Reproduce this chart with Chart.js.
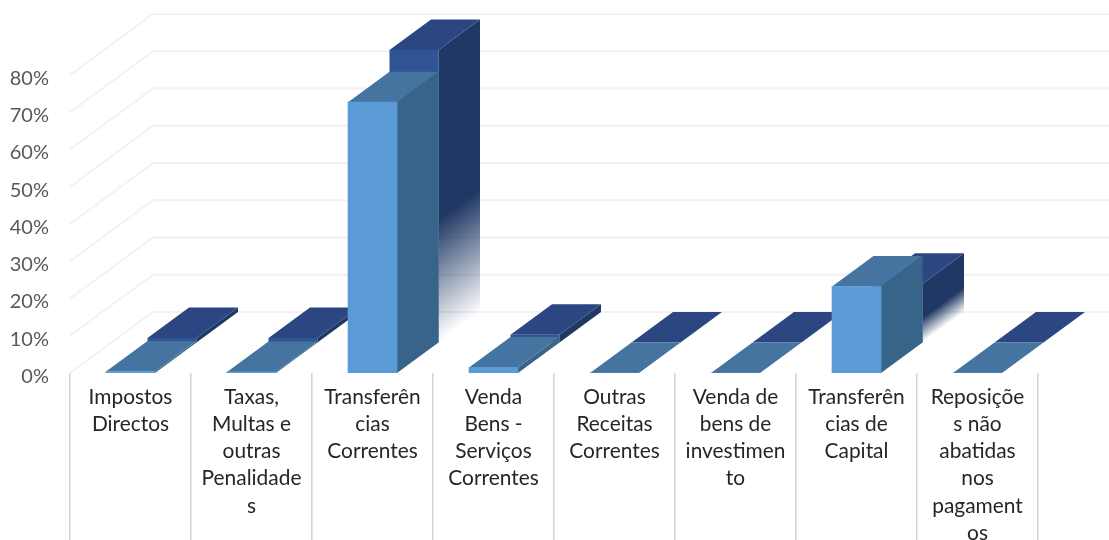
<!DOCTYPE html>
<html>
<head>
<meta charset="utf-8">
<script src="https://cdn.jsdelivr.net/npm/chart.js@4"></script>
<style>
  html, body { margin: 0; padding: 0; background: #ffffff; }
  canvas { display: block; }
</style>
</head>
<body>
<canvas id="receitas-chart" width="1109" height="540"></canvas>
<script>
const categories = [
  ['Impostos', 'Directos'],
  ['Taxas,', 'Multas e', 'outras', 'Penalidade', 's'],
  ['Transferên', 'cias', 'Correntes'],
  ['Venda', 'Bens -', 'Serviços', 'Correntes'],
  ['Outras', 'Receitas', 'Correntes'],
  ['Venda de', 'bens de', 'investimen', 'to'],
  ['Transferên', 'cias de', 'Capital'],
  ['Reposiçõe', 's não', 'abatidas', 'nos', 'pagament', 'os']
];
const frontValues = [0.4, 0.3, 72.7, 1.5, 0, 0, 23.2, 0];
const backValues = [1.2, 1.2, 78.5, 2.1, 0, 0, 15.8, 0];

// one row of bars takes this much of the fake 3D depth
const DEPTH_X = 41.5;
const DEPTH_Y = -30.5;

const FRONT_COLORS = { face: '#5b9bd5', top: '#44749f', side: '#386489' };
const BACK_COLORS = { face: '#2f5597', top: '#2b4681', side: '#203864' };

function poly(ctx, pts, fill) {
  ctx.beginPath();
  pts.forEach((p, i) => (i ? ctx.lineTo(p[0], p[1]) : ctx.moveTo(p[0], p[1])));
  ctx.closePath();
  ctx.fillStyle = fill;
  ctx.fill();
}

// side face fades out towards the floor, the gradient runs across the slanted bottom edge
function fadeGradient(ctx, x, top, base, color) {
  const len = Math.hypot(DEPTH_X, DEPTH_Y);
  const nx = -DEPTH_Y / len;
  const ny = DEPTH_X / len;
  const d = (base - top) * ny;
  const g = ctx.createLinearGradient(x, top, x + nx * d, top + ny * d);
  g.addColorStop(0, color);
  g.addColorStop(0.58, color);
  g.addColorStop(1, 'rgba(32,56,100,0)');
  return g;
}

function drawBox(ctx, el, row, colors, withFace, fade) {
  const sx = DEPTH_X * row;
  const sy = DEPTH_Y * row;
  const l = el.x - el.width / 2 + sx;
  const r = el.x + el.width / 2 + sx;
  const top = el.y + sy;
  const base = el.base + sy;
  if (withFace) poly(ctx, [[l, top], [r, top], [r, base], [l, base]], colors.face);
  poly(ctx, [[r, top], [r + DEPTH_X, top + DEPTH_Y], [r + DEPTH_X, base + DEPTH_Y], [r, base]],
    fade ? fadeGradient(ctx, r, top, base, colors.side) : colors.side);
  poly(ctx, [[l, top], [r, top], [r + DEPTH_X, top + DEPTH_Y], [l + DEPTH_X, top + DEPTH_Y]], colors.top);
}

const depthPlugin = {
  id: 'depth',
  beforeDatasetsDraw(chart) {
    const ctx = chart.ctx;
    const yScale = chart.scales.y;
    const wallX = DEPTH_X * 2;
    const wallY = DEPTH_Y * 2;
    ctx.save();
    ctx.strokeStyle = '#f2f2f2';
    ctx.lineWidth = 2;
    yScale.ticks.forEach(t => {
      const y = yScale.getPixelForValue(t.value);
      ctx.beginPath();
      ctx.moveTo(chart.chartArea.left, y);
      ctx.lineTo(chart.chartArea.left + wallX, y + wallY);
      ctx.lineTo(chart.width, y + wallY);
      ctx.stroke();
    });
    chart.getDatasetMeta(1).data.forEach((el, i) => {
      drawBox(ctx, el, 1, BACK_COLORS, true, backValues[i] > 10);
    });
    chart.getDatasetMeta(0).data.forEach(el => {
      drawBox(ctx, el, 0, FRONT_COLORS, false, false);
    });
    ctx.restore();
  }
};

new Chart(document.getElementById('receitas-chart'), {
  type: 'bar',
  data: {
    labels: categories,
    datasets: [
      { label: 'Frente', data: frontValues, backgroundColor: FRONT_COLORS.face },
      { label: 'Fundo', data: backValues, backgroundColor: 'rgba(0,0,0,0)' }
    ]
  },
  options: {
    responsive: false,
    animation: false,
    layout: { padding: { top: 75, right: 71, left: 0, bottom: 0 } },
    datasets: { bar: { grouped: false, barThickness: 49 } },
    plugins: { legend: { display: false }, tooltip: { enabled: false } },
    scales: {
      x: {
        afterFit: s => { s.height = 167; },
        border: { display: false },
        grid: {
          drawOnChartArea: false,
          color: '#d4d4d4',
          lineWidth: 1.5,
          tickLength: 167
        },
        ticks: {
          autoSkip: false,
          maxRotation: 0,
          padding: -156,
          color: '#262626',
          font: { family: 'Lato', size: 20.9, lineHeight: 1.295 }
        }
      },
      y: {
        min: 0,
        max: 80,
        afterFit: s => { s.width = 70; },
        border: { display: false },
        grid: { display: false, drawTicks: false },
        ticks: {
          stepSize: 10,
          padding: 21,
          color: '#595959',
          // blank first line pushes the label a few px under its gridline, like the original
          font: { family: 'Lato', size: 20, lineHeight: '7px' },
          callback: v => ['', v + '%']
        }
      }
    }
  },
  plugins: [depthPlugin]
});
</script>
</body>
</html>
